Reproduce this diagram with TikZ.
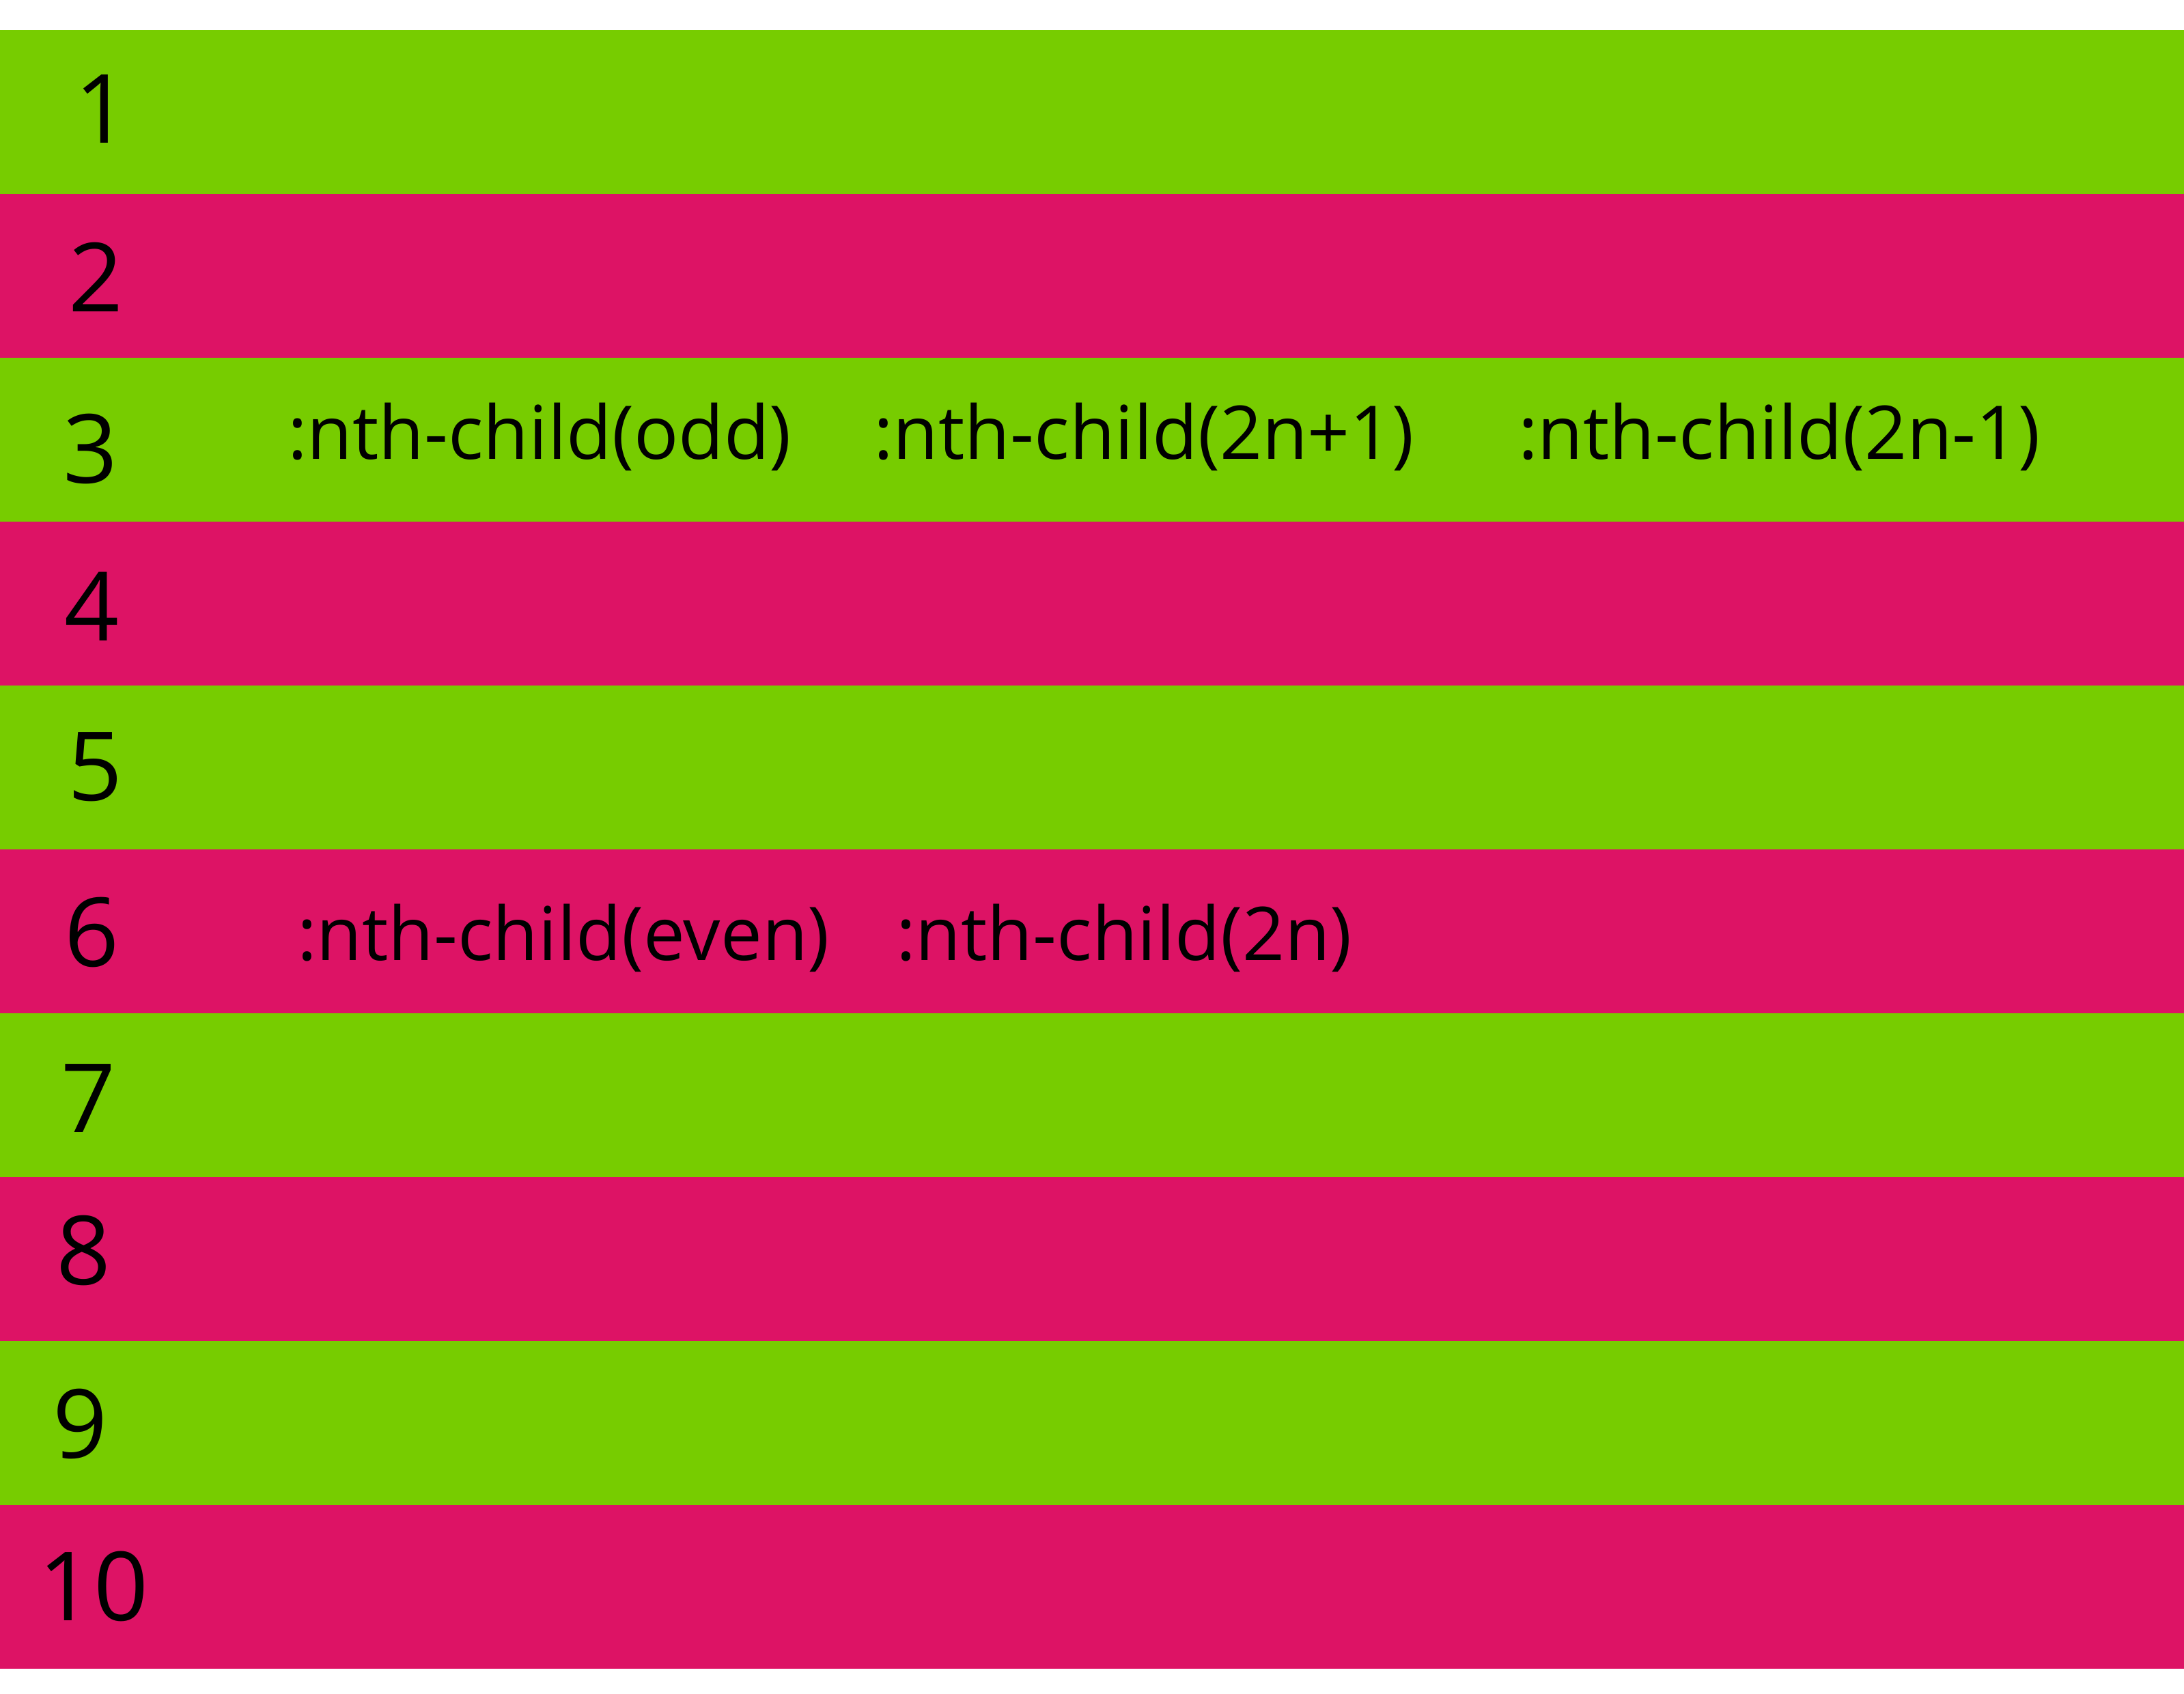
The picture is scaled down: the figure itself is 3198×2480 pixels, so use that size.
\documentclass[tikz,border=0pt]{standalone}
\usepackage{fontspec}
\setmainfont{Open Sans}
\usetikzlibrary{positioning}
\definecolor{oddgreen}{RGB}{119,204,0}
\definecolor{evenpink}{RGB}{221,19,101}
\tikzset{
 rownum/.style={inner sep=0pt, font=\fontsize{14}{16}\selectfont},
 selector/.style={inner sep=0pt, anchor=base west, font=\fontsize{10.85}{13}\selectfont}
}

\begin{document}
\begin{tikzpicture}[x=0.1pt,y=-0.1pt]
\useasboundingbox (0,0) rectangle (3198,2480);
% stripes
\foreach \k in {1,3,5,7,9}{
\fill[oddgreen] (0,{44+240*(\k-1)}) rectangle (3198,{44+240*\k});};
\foreach \k in {2,4,6,8,10}{
\fill[evenpink] (0,{44+240*(\k-1)}) rectangle (3198,{44+240*\k});};
% row numbers
\foreach \n/\x/\y in {1/150/160,2/141/406,3/133/657,4/135/888,5/140/1123,6/135/1365,7/130/1608,8/123/1831,9/118/2085,10/137/2323}{
\node[rownum] (row\n) at (\x,\y) {\n};};
% selectors
\node[selector] (odd) at (419,672) {:nth-child(odd)};
\node[selector] (twonplus) at (1277,672) {:nth-child(2n+1)};
\node[selector] (twonminus) at (2221,672) {:nth-child(2n-1)};
\node[selector] (even) at (433,1406) {:nth-child(even)};
\node[selector] (twon) at (1310,1406) {:nth-child(2n)};
\end{tikzpicture}
\end{document}
